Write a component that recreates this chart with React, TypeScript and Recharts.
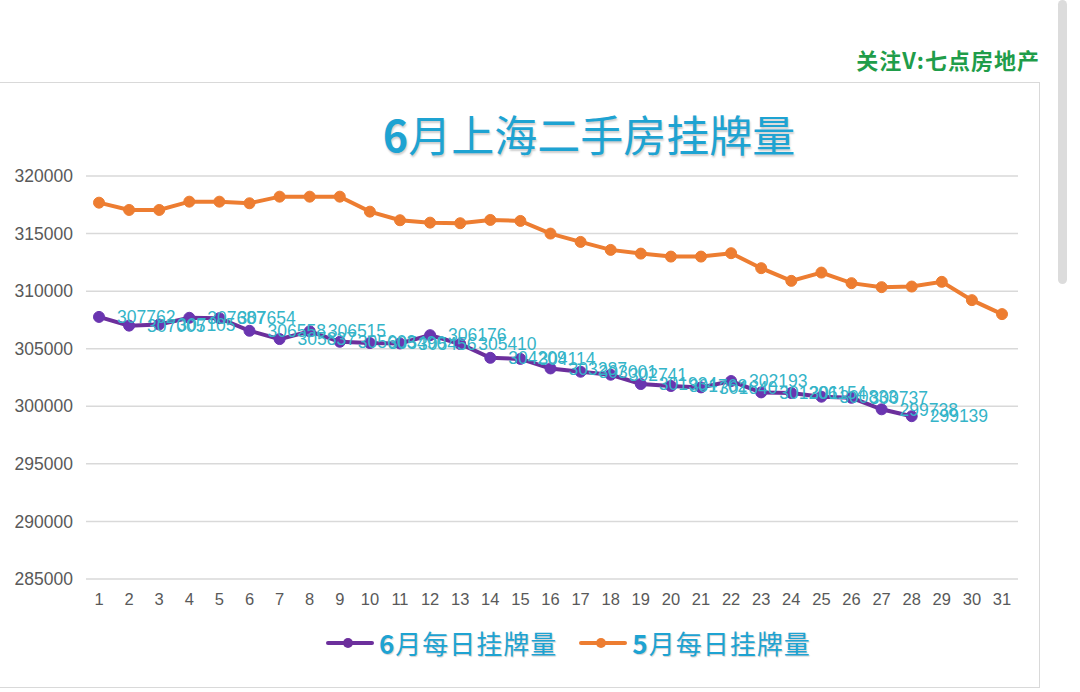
import React from 'react';
import { LineChart, Line, XAxis, YAxis, CartesianGrid, LabelList } from 'recharts';

const days = Array.from({ length: 31 }, (_, i) => String(i + 1));

const juneListings = [
  307762, 307005, 307105, 307687, 307654, 306558, 305837, 306515, 305603, 305490,
  305456, 306176, 305410, 304209, 304114, 303287, 303001, 302741, 301934, 301762,
  301640, 302193, 301206, 301154, 300833, 300737, 299738, 299139,
];

const mayListings = [
  317684, 317051, 317051, 317771, 317771, 317632, 318205, 318205, 318205, 316904,
  316158, 315950, 315898, 316184, 316097, 315000, 314276, 313582, 313261, 313001,
  313001, 313296, 311995, 310893, 311613, 310694, 310347, 310399, 310807, 309219,
  308005,
];

const yTicks = [285000, 290000, 295000, 300000, 305000, 310000, 315000, 320000];

const chartData = days.map((d, i) => ({
  day: d,
  june: juneListings[i] ?? null,
  may: mayListings[i] ?? null,
}));

const PURPLE = '#6c2f9c';
const ORANGE = '#ed7d31';
const CYAN = '#1ea3d2';
const LABEL = '#34b4c8';
const AXIS_TEXT = '#595959';
const CJK = '"Noto Sans CJK SC", "Noto Sans", sans-serif';
const LATIN = 'Liberation Sans, Arial, sans-serif';

const LegendItem: React.FC<{ color: string; month: string }> = ({ color, month }) => (
  <div style={{ display: 'flex', alignItems: 'center' }}>
    <svg width={48} height={16} style={{ marginRight: 5 }}>
      <line x1={2} y1={8} x2={46} y2={8} stroke={color} strokeWidth={4} strokeLinecap="round" />
      <circle cx={22} cy={8} r={5} fill={color} />
    </svg>
    <span
      style={{
        fontFamily: CJK,
        fontSize: 26,
        fontWeight: 400,
        color: CYAN,
        textShadow: '1px 1px 1px rgba(0,0,0,0.18)',
        letterSpacing: 1,
      }}
    >
      <b>{month}</b>月每日挂牌量
    </span>
  </div>
);

export default function App() {
  return (
    <div style={{ position: 'absolute', left: 0, top: 0, width: 1080, height: 692, background: '#fff', overflow: 'hidden' }}>
      {/* scrollbar */}
      <div style={{ position: 'absolute', left: 1058, top: 0, width: 9, height: 284, background: '#dcdcdc', borderRadius: 5 }} />

      <div
        style={{
          position: 'absolute',
          right: 40,
          top: 43,
          fontFamily: CJK,
          fontSize: 22,
          fontWeight: 700,
          color: '#1f9d4a',
          letterSpacing: 1,
        }}
      >
        关注V:七点房地产
      </div>

      {/* card */}
      <div
        style={{
          position: 'absolute',
          left: -2,
          top: 82,
          width: 1042,
          height: 606,
          border: '1px solid #d9d9d9',
          boxSizing: 'border-box',
          background: '#fff',
        }}
      >
        <div
          style={{
            position: 'absolute',
            left: 0,
            width: 1180,
            top: 19,
            textAlign: 'center',
            fontFamily: CJK,
            fontSize: 43,
            fontWeight: 400,
            color: CYAN,
            textShadow: '1px 2px 2px rgba(0,0,0,0.2)',
          }}
        >
          <b>6</b>月上海二手房挂牌量
        </div>

        <div style={{ position: 'absolute', left: 0, top: 0 }}>
          <LineChart
            width={1040}
            height={604}
            data={chartData}
            margin={{ top: 93, right: 21, bottom: 78, left: 12 }}
          >
            <CartesianGrid vertical={false} stroke="#d9d9d9" strokeWidth={1.5} />
            <XAxis
              dataKey="day"
              axisLine={false}
              tickLine={false}
              interval={0}
              tickMargin={8}
              height={30}
              padding={{ left: 13, right: 16 }}
              tick={{ fill: AXIS_TEXT, fontSize: 16.5, fontFamily: LATIN }}
            />
            <YAxis
              domain={[285000, 320000]}
              ticks={yTicks}
              axisLine={false}
              tickLine={false}
              tickMargin={7}
              width={75}
              tick={{ fill: AXIS_TEXT, fontSize: 17.5, fontFamily: LATIN }}
            />
            <Line
              dataKey="may"
              stroke={ORANGE}
              strokeWidth={4}
              dot={{ r: 5.5, fill: ORANGE, stroke: ORANGE, strokeWidth: 1 }}
              activeDot={false}
              isAnimationActive={false}
            />
            <Line
              dataKey="june"
              stroke={PURPLE}
              strokeWidth={4}
              dot={{ r: 5.5, fill: '#6a35b0', stroke: '#6a35b0', strokeWidth: 1 }}
              activeDot={false}
              connectNulls={false}
              isAnimationActive={false}
            >
              <LabelList
                dataKey="june"
                position="right"
                offset={18}
                fill={LABEL}
                fontSize={17.5}
                fontFamily={LATIN}
              />
            </Line>
          </LineChart>
        </div>

        <div
          style={{
            position: 'absolute',
            left: 327,
            top: 541,
            display: 'flex',
            alignItems: 'center',
            gap: 22,
          }}
        >
          <LegendItem color={PURPLE} month="6" />
          <LegendItem color={ORANGE} month="5" />
        </div>
      </div>
    </div>
  );
}
